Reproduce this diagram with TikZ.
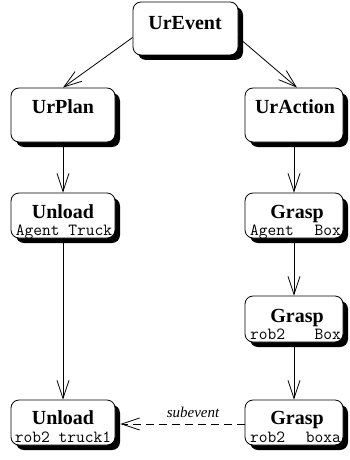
\documentclass[tikz,border=0pt]{standalone}
\usepackage{fontspec}
\setmainfont{Liberation Serif}
\usetikzlibrary{arrows.meta,shadows}
\tikzset{
  box/.style={draw, line width=0.8pt, rounded corners=8pt, fill=white, inner sep=0pt,
    drop shadow={shadow xshift=5pt, shadow yshift=-5pt, fill=black, opacity=1}},
  title/.style={font=\fontsize{20}{20}\selectfont\bfseries, anchor=base, inner sep=0pt},
  args/.style={font=\fontsize{17}{17}\selectfont\ttfamily, anchor=base, inner sep=0pt},
  link/.style={line width=0.8pt, -{Straight Barb[length=18pt,width=12pt,line width=0.8pt]}},
  edgelabel/.style={font=\fontsize{15}{15}\selectfont\itshape, anchor=base, inner sep=0pt},
}
\begin{document}
\begin{tikzpicture}[x=1pt,y=-1pt]
\useasboundingbox (0,0) rectangle (349,460);

% event boxes
\node[box, minimum width=105pt, minimum height=53pt] (ev)   at (185.5,28.5) {};
\node[box, minimum width=104pt, minimum height=54pt] (plan) at (63,115) {};
\node[box, minimum width=98pt,  minimum height=54pt] (act)  at (294,115) {};
\node[box, minimum width=104pt, minimum height=45pt] (unl1) at (63,215.5) {};
\node[box, minimum width=98pt,  minimum height=45pt] (gr1)  at (294,215.5) {};
\node[box, minimum width=98pt,  minimum height=46pt] (gr2)  at (294,319) {};
\node[box, minimum width=104pt, minimum height=45pt] (unl2) at (63,422.5) {};
\node[box, minimum width=98pt,  minimum height=45pt] (gr3)  at (294,422.5) {};

% names
\node[title] (evT)   at (185,30)    {UrEvent};
\node[title] (planT) at (63,113.3)  {UrPlan};
\node[title] (actT)  at (295,113.3) {UrAction};
\node[title] (unl1T) at (63,218.5)  {Unload};
\node[title] (gr1T)  at (297,218)   {Grasp};
\node[title] (gr2T)  at (297,322)   {Grasp};
\node[title] (unl2T) at (63,424.5)  {Unload};
\node[title] (gr3T)  at (297,424.5) {Grasp};

% arguments
\node[args] (unl1A) at (64,235.5)    {Agent Truck};
\node[args] (gr1A)  at (295.5,235.5) {\makebox[91pt]{Agent\hfill Box}};
\node[args] (gr2A)  at (295.5,339)   {\makebox[91pt]{rob2\hfill Box}};
\node[args] (unl2A) at (63,442.5)    {rob2 truck1};
\node[args] (gr3A)  at (295.5,442.5) {\makebox[91pt]{rob2\hfill boxa}};

% connectors
\draw[link] ([yshift=-9pt]ev.west) -- (plan.north);
\draw[link] ([yshift=-9pt]ev.east) -- ([xshift=3pt]act.north);
\draw[link] (plan.south) -- (unl1.north);
\draw[link] (act.south) -- (gr1.north);
\draw[link] (gr1.south) -- (gr2.north);
\draw[link] (gr2.south) -- (gr3.north);
\draw[link] (unl1.south) -- (unl2.north);
\draw[link, dash pattern=on 8pt off 5pt] ([yshift=-1.5pt]gr3.west) -- ([xshift=5pt,yshift=-1.5pt]unl2.east);
\node[edgelabel] (subT) at (193,417) {subevent};
\end{tikzpicture}
\end{document}
